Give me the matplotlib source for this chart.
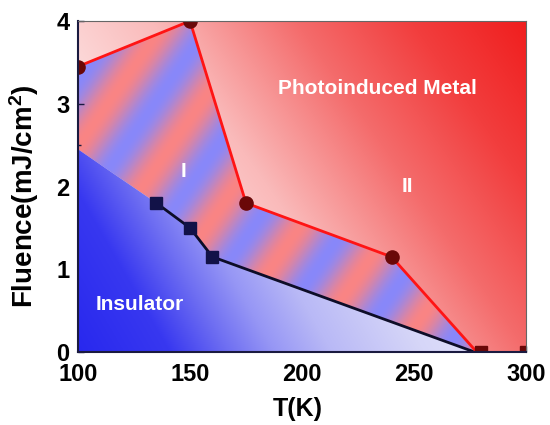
import numpy as np
import matplotlib
matplotlib.use("Agg")
import matplotlib.pyplot as plt
from matplotlib.patches import Polygon
from matplotlib.ticker import MultipleLocator

plt.rcParams['font.family'] = ['Liberation Sans', 'DejaVu Sans']
plt.rcParams['font.weight'] = 'bold'
plt.rcParams['mathtext.fontset'] = 'custom'
plt.rcParams['mathtext.rm'] = 'Liberation Sans:bold'
plt.rcParams['mathtext.default'] = 'rm'

# ---- data ----
T_metal = [100, 150, 175, 240, 278]          # red boundary (circles)
F_metal = [3.45, 4.0, 1.8, 1.15, 0.0]
T_ins = [135, 150, 160, 277]                 # black boundary (squares)
F_ins = [1.8, 1.5, 1.15, 0.0]
T_ins_edge = [100]                           # insulator edge at left axis
F_ins_edge = [2.45]
T_extra = [280, 300]                         # squares on the axis
F_extra = [0.0, 0.0]
xticks = [100, 150, 200, 250, 300]
yticks = [0, 1, 2, 3, 4]

XMIN, XMAX, YMIN, YMAX = 100, 300, 0, 4
W_PX, H_PX = 448, 331

fig = plt.figure(figsize=(5.5, 4.25), dpi=100)
ax = fig.add_axes([78/550, (425-352)/425, W_PX/550, H_PX/425])
ax.set_xlim(XMIN, XMAX)
ax.set_ylim(YMIN, YMAX)

nx, ny = W_PX*2, H_PX*2
xs = np.linspace(XMIN, XMAX, nx)
ys = np.linspace(YMIN, YMAX, ny)
X, Y = np.meshgrid(xs, ys)
PX = (X - XMIN) / (XMAX - XMIN) * W_PX
PY = (Y - YMIN) / (YMAX - YMIN) * H_PX

def ramp(t, keys, cols):
    cols = np.array(cols, float) / 255.0
    out = np.zeros(t.shape + (3,))
    for c in range(3):
        out[..., c] = np.interp(t, keys, cols[:, c])
    return out

# background metal gradient
a = np.deg2rad(35)
tb = PX*np.cos(a) + PY*np.sin(a)
tb = tb / tb.max()
bg = ramp(tb, [0, 0.3, 0.45, 0.66, 0.83, 1.0],
          [(255, 255, 255), (252, 216, 216), (250, 186, 186), (244, 108, 108),
           (242, 62, 62), (240, 30, 30)])
ax.imshow(bg, extent=(XMIN, XMAX, YMIN, YMAX), origin='lower', aspect='auto',
          interpolation='bilinear', zorder=0)

# striped intermediate region
th = np.deg2rad(55)
P = 76.0
p0 = -118.0
p = PX*np.sin(th) - PY*np.cos(th)
w = 0.5 + 0.5*np.cos(2*np.pi*(p - p0)/P)
red = np.array([250, 132, 132]) / 255.0
blue = np.array([136, 136, 250]) / 255.0
st = w[..., None]*red + (1 - w[..., None])*blue
stripe_poly = list(zip(T_metal, F_metal)) + list(zip(T_ins[::-1], F_ins[::-1])) + \
    list(zip(T_ins_edge, F_ins_edge))
sp = Polygon(stripe_poly, closed=True, transform=ax.transData, facecolor='none', edgecolor='none')
ax.add_patch(sp)
im2 = ax.imshow(st, extent=(XMIN, XMAX, YMIN, YMAX), origin='lower', aspect='auto',
                interpolation='bilinear', zorder=1)
im2.set_clip_path(sp)

# insulator gradient
b = np.deg2rad(30)
ti = PX*np.cos(b) + PY*np.sin(b)
ins = ramp(ti, [0, 80, 130, 170, 220, 300, 350],
           [(40, 40, 238), (56, 56, 240), (110, 110, 242), (150, 150, 245),
            (185, 185, 246), (214, 214, 248), (224, 224, 250)])
ins_poly = [(XMIN, YMIN)] + list(zip(T_ins_edge, F_ins_edge)) + list(zip(T_ins, F_ins))
ipatch = Polygon(ins_poly, closed=True, transform=ax.transData, facecolor='none', edgecolor='none')
ax.add_patch(ipatch)
im3 = ax.imshow(ins, extent=(XMIN, XMAX, YMIN, YMAX), origin='lower', aspect='auto',
                interpolation='bilinear', zorder=2)
im3.set_clip_path(ipatch)

# boundaries
ax.plot(T_ins, F_ins, color='#0d0d28', lw=2.0, zorder=4)
ax.plot(T_ins[:3], F_ins[:3], 's', color='#121248', ms=8.5, zorder=5)
ax.plot(T_metal, F_metal, color='#ff1414', lw=2.0, zorder=4)
ax.plot(T_metal[:4], F_metal[:4], 'o', color='#6a0808', ms=9.5, zorder=5)
ax.plot(T_extra, F_extra, 's', color='#6a0808', ms=8, zorder=5)

# labels inside
ax.text(233.5, 3.19, 'Photoinduced Metal', color='white', fontsize=15,
        fontweight='bold', ha='center', va='center', zorder=6)
ax.text(147.3, 2.18, 'I', color='white', fontsize=15, fontweight='bold',
        ha='center', va='center', zorder=6)
ax.text(246.9, 2.0, 'II', color='white', fontsize=15, fontweight='bold',
        ha='center', va='center', zorder=6)
ax.text(127.7, 0.57, 'Insulator', color='white', fontsize=15, fontweight='bold',
        ha='center', va='center', zorder=6)

# axes styling
ax.set_xticks(xticks)
ax.set_yticks(yticks)
ax.xaxis.set_minor_locator(MultipleLocator(25))
ax.yaxis.set_minor_locator(MultipleLocator(0.5))
ax.tick_params(which='both', direction='in', colors='#1a1a40', labelcolor='black',
               labelsize=17, width=1.0)
ax.tick_params(which='major', length=4.5)
ax.tick_params(axis='x', which='major', pad=8)
ax.tick_params(axis='y', which='major', pad=6)
ax.tick_params(which='minor', length=2.5)
for lab in ax.get_xticklabels() + ax.get_yticklabels():
    lab.set_fontweight('bold')
ax.spines['left'].set_color('#1a1a40')
ax.spines['bottom'].set_color('#1a1a40')
ax.spines['left'].set_linewidth(1.5)
ax.spines['bottom'].set_linewidth(1.5)
ax.spines['top'].set_color('#666666')
ax.spines['right'].set_color('#666666')
for s in ax.spines.values():
    s.set_zorder(7)

ax.set_xlabel('T(K)', fontsize=18, fontweight='bold')
ax.set_ylabel(r'Fluence(mJ/cm$^2$)', fontsize=20, fontweight='bold')
ax.xaxis.set_label_coords(0.49, -0.135)
ax.yaxis.set_label_coords(-0.083, 0.47)

fig.savefig('out.png', dpi=100)
